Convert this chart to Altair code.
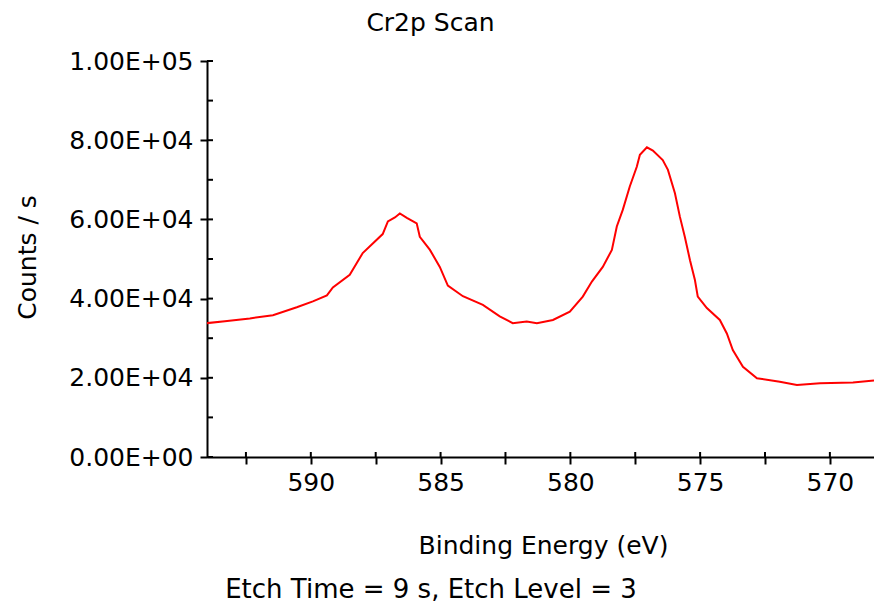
import altair as alt
import pandas as pd

# ---- data ----
energy_ev = [594.01, 593.31, 592.35, 591.46, 590.54, 589.92, 589.38, 589.15, 588.50, 588.00,
             587.23, 587.03, 586.76, 586.57, 586.30, 585.92, 585.80, 585.41, 585.03, 584.72,
             584.14, 583.37, 582.72, 582.22, 581.68, 581.29, 580.67, 580.02, 579.52, 579.17,
             578.75, 578.40, 578.21, 577.98, 577.71, 577.44, 577.32, 577.05, 576.82, 576.44,
             576.24, 575.97, 575.78, 575.59, 575.39, 575.20, 575.09, 574.74, 574.24, 573.97,
             573.74, 573.35, 572.81, 571.93, 571.27, 570.38, 569.11, 568.30]
counts = [33800, 34300, 35000, 35800, 37800, 39300, 40800, 42800, 46000, 51500,
          56300, 59500, 60500, 61500, 60400, 59000, 55600, 52300, 48000, 43300,
          40600, 38400, 35500, 33800, 34200, 33800, 34600, 36700, 40500, 44300,
          48000, 52300, 58200, 62400, 68300, 73300, 76300, 78200, 77400, 75000,
          72500, 66600, 60700, 55600, 49700, 44700, 40500, 37600, 34600, 31200,
          27000, 22800, 19900, 19000, 18200, 18600, 18800, 19300]

x_ticks = [592.5, 590, 587.5, 585, 582.5, 580, 577.5, 575, 572.5, 570]
y_ticks = [0, 10000, 20000, 30000, 40000, 50000, 60000, 70000, 80000, 90000, 100000]
x_domain = [568.3, 594.0]
y_domain = [0, 100000]

title_text = "Cr2p Scan"
x_title = "Binding Energy (eV)"
y_title = "Counts / s"
footer_text = "Etch Time = 9 s, Etch Level = 3"

FONT = "DejaVu Sans"
df = pd.DataFrame({"E": energy_ev, "C": counts})

W, H = 667, 396

xscale = alt.Scale(domain=x_domain, reverse=True, nice=False, zero=False)
yscale = alt.Scale(domain=y_domain, nice=False)

y_label_expr = ("datum.value % 20000 == 0 ? "
                "replace(upper(format(datum.value, '.2e')), 'E+', 'E+0') : ''")
x_label_expr = "datum.value % 5 == 0 ? format(datum.value, 'd') : ''"

main = alt.Chart(df).mark_line(color="#ff0000", strokeWidth=2, clip=True).encode(
    x=alt.X("E:Q", scale=xscale,
            axis=alt.Axis(values=x_ticks, labelExpr=x_label_expr, title=x_title,
                          orient="bottom", grid=False, domain=True, domainColor="black",
                          domainWidth=2, tickColor="black", tickWidth=2, tickSize=7,
                          labelFont=FONT, labelFontSize=25, labelColor="black",
                          labelPadding=6, labelFlush=False, labelOverlap=False,
                          titleFont=FONT, titleFontSize=25, titleFontWeight="normal",
                          titleColor="black", titleX=336, titleY=96,
                          titleAlign="center", titleBaseline="alphabetic")),
    y=alt.Y("C:Q", scale=yscale,
            axis=alt.Axis(values=y_ticks, labelExpr=y_label_expr, title=y_title,
                          orient="left", grid=False, domain=True, domainColor="black",
                          domainWidth=2, tickColor="black", tickWidth=2, tickSize=7,
                          labelFont=FONT, labelFontSize=25, labelColor="black",
                          labelPadding=7, labelFlush=False, labelOverlap=False,
                          titleFont=FONT, titleFontSize=25, titleFontWeight="normal",
                          titleColor="black", titleX=-180, titleY=196, titleAngle=270,
                          titleAlign="center", titleBaseline="middle")),
)

# inner halves of the crossing ticks, placed through the shared scales
x_inner = alt.Chart(pd.DataFrame({"v": x_ticks})).mark_rule(
    color="black", strokeWidth=2
).encode(x=alt.X("v:Q", scale=xscale), y=alt.value(H - 5), y2=alt.value(H))

y_inner = alt.Chart(pd.DataFrame({"v": y_ticks})).mark_rule(
    color="black", strokeWidth=2
).encode(y=alt.Y("v:Q", scale=yscale), x=alt.value(0), x2=alt.value(6))

footer = alt.Chart(pd.DataFrame({"t": [footer_text]})).mark_text(
    font=FONT, fontSize=26, color="black", align="center", baseline="alphabetic"
).encode(text="t:N", x=alt.value(224), y=alt.value(537))

chart = alt.layer(main, x_inner, y_inner, footer).properties(
    width=W, height=H,
    background="white",
    title=alt.TitleParams(text=title_text, font=FONT, fontSize=25, fontWeight="normal",
                          color="black", anchor="middle", frame="group", dx=-110,
                          baseline="alphabetic", offset=18, dy=25),
    autosize=alt.AutoSizeParams(type="none"),
    padding={"left": 207, "top": 61, "right": 0, "bottom": 149},
).configure_view(stroke=None, strokeWidth=0).configure_axis(grid=False)

chart.save("out.html", embed_options={"renderer": "svg", "actions": False})
